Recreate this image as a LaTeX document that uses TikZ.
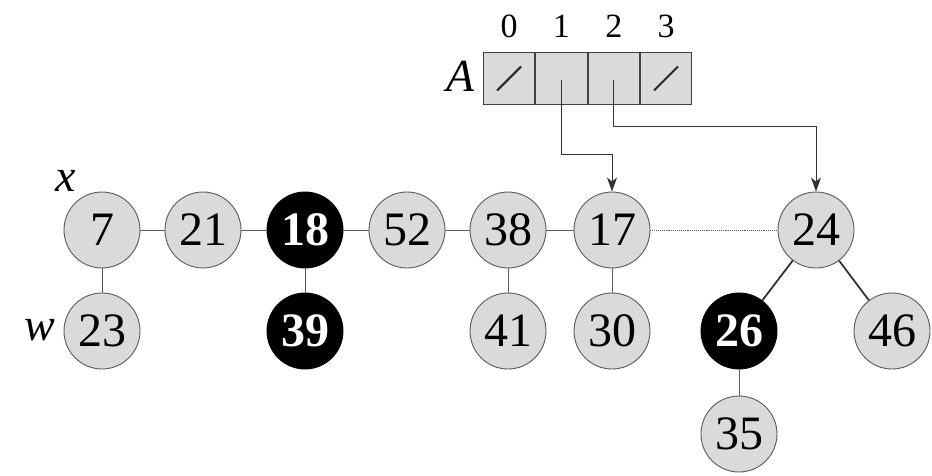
\documentclass[tikz,border=0pt]{standalone}
\usepackage{fontspec}
\setmainfont{LiberationSerif}[Extension=.ttf,UprightFont=*-Regular,BoldFont=*-Bold,ItalicFont=*-Italic,BoldItalicFont=*-BoldItalic]
\usetikzlibrary{arrows.meta}
\definecolor{nodefill}{RGB}{218,218,218}
\definecolor{edgegray}{RGB}{90,90,90}
\begin{document}
\begin{tikzpicture}[x=1pt,y=-1pt,
  key/.style={circle,draw=edgegray,line width=0.9pt,fill=nodefill,minimum size=76pt,inner sep=0pt,font=\fontsize{48}{56}\selectfont},
  bkey/.style={key,draw=black,fill=black,text=white,font=\fontsize{48}{56}\selectfont\bfseries},
  link/.style={draw=edgegray,line width=0.9pt},
  treeedge/.style={draw=black!80,line width=1.8pt},
  cell/.style={draw=black!75,line width=1pt,fill=nodefill,minimum width=51.3pt,minimum height=52pt,inner sep=0pt,anchor=north west},
  idx/.style={font=\fontsize{34}{40}\selectfont},
  ptr/.style={draw=black!80,line width=1pt,-{Stealth[length=14pt,width=10pt,inset=4pt]}},
  lbl/.style={font=\fontsize{46}{54}\selectfont\itshape},
  nilslash/.style={draw=black!85,line width=2pt}
]
\useasboundingbox (0,0) rectangle (932,476);
% root list
\node[key]  (n7)  at (102,230) {7};
\node[key]  (n21) at (203,230) {21};
\node[bkey] (n18) at (305,230) {18};
\node[key]  (n52) at (407,230) {52};
\node[key]  (n38) at (508,230) {38};
\node[key]  (n17) at (612,230) {17};
\node[key]  (n24) at (816,230) {24};
% children
\node[key]  (n23) at (102,331) {23};
\node[bkey] (n39) at (305,331) {39};
\node[key]  (n41) at (508,331) {41};
\node[key]  (n30) at (612,331) {30};
\node[bkey] (n26) at (739,331) {26};
\node[key]  (n46) at (892,331) {46};
\node[key]  (n35) at (739,434) {35};
% labels
\node[lbl] (lx) at (66,181) {x};
\node[lbl] (lw) at (40,330) {w};
% edges
\draw[link] (n7) -- (n21);
\draw[link] (n21) -- (n18);
\draw[link] (n18) -- (n52);
\draw[link] (n52) -- (n38);
\draw[link] (n38) -- (n17);
\draw[link,densely dotted] (n17) -- (n24);
\draw[link] (n7) -- (n23);
\draw[link] (n18) -- (n39);
\draw[link] (n38) -- (n41);
\draw[link] (n17) -- (n30);
\draw[link] (n26) -- (n35);
\draw[treeedge] (n24) -- (n26);
\draw[treeedge] (n24) -- (n46);
% array A
\node[cell] (c0) at (483,52) {};
\node[cell] (c1) at (c0.north east) {};
\node[cell] (c2) at (c1.north east) {};
\node[cell] (c3) at (c2.north east) {};
\node[idx] (i0) at (c0.north |- 0,26) {0};
\node[idx] (i1) at (c1.north |- 0,26) {1};
\node[idx] (i2) at (c2.north |- 0,26) {2};
\node[idx] (i3) at (c3.north |- 0,26) {3};
\node[lbl,anchor=east] (lA) at (478,76) {A};
\draw[nilslash] ([shift={(-12,12)}]c0.center) -- ([shift={(12,-12)}]c0.center);
\draw[nilslash] ([shift={(-12,12)}]c3.center) -- ([shift={(12,-12)}]c3.center);
\coordinate (p1) at ([yshift=-2pt]c1.center);
\coordinate (p2) at ([yshift=-2pt]c2.center);
\draw[ptr] (p1) |- (612,155) -- (n17.north);
\draw[ptr] (p2) |- (816,127) -- (n24.north);
\end{tikzpicture}
\end{document}
